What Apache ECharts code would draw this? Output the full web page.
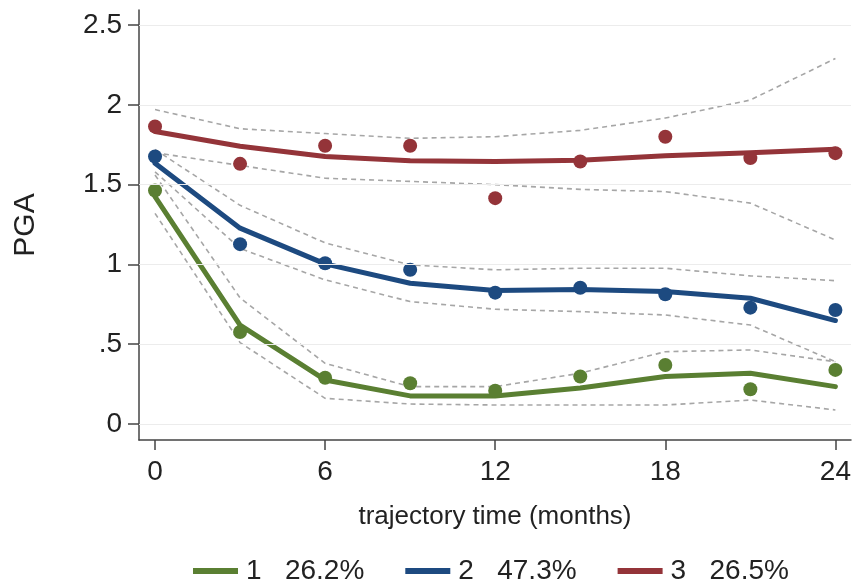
<!DOCTYPE html>
<html>
<head>
<meta charset="utf-8">
<script src="https://cdn.jsdelivr.net/npm/echarts@6/dist/echarts.min.js"></script>
<style>
  html, body { margin: 0; padding: 0; background: #fff; }
  #chart { width: 859px; height: 583px; }
</style>
</head>
<body>
<div id="chart"></div>
<script>
// Trajectory time in months
const months = [0, 3, 6, 9, 12, 15, 18, 21, 24];
const xTicks = [0, 6, 12, 18, 24];
const yTicks = [0, 0.5, 1, 1.5, 2, 2.5];
const yTickLabels = ['0', '.5', '1', '1.5', '2', '2.5'];

// Group labels and shares
const groups = ['1', '2', '3'];
const shares = ['26.2%', '47.3%', '26.5%'];

// Group 1
const obs1 = [1.463, 0.576, 0.290, 0.255, 0.209, 0.298, 0.370, 0.218, 0.339];
const fit1 = [1.425, 0.620, 0.276, 0.176, 0.176, 0.226, 0.297, 0.318, 0.234];
const hi1  = [1.560, 0.790, 0.380, 0.234, 0.234, 0.318, 0.453, 0.464, 0.390];
const lo1  = [1.320, 0.510, 0.161, 0.125, 0.119, 0.119, 0.119, 0.150, 0.088];

// Group 2
const obs2 = [1.676, 1.127, 1.007, 0.966, 0.823, 0.854, 0.813, 0.729, 0.714];
const fit2 = [1.634, 1.227, 1.003, 0.882, 0.836, 0.842, 0.830, 0.788, 0.648];
const hi2  = [1.720, 1.370, 1.135, 0.997, 0.966, 0.976, 0.976, 0.928, 0.898];
const lo2  = [1.580, 1.100, 0.903, 0.767, 0.719, 0.704, 0.683, 0.620, 0.390];

// Group 3
const obs3 = [1.864, 1.630, 1.743, 1.743, 1.415, 1.645, 1.800, 1.666, 1.697];
const fit3 = [1.833, 1.740, 1.676, 1.649, 1.645, 1.652, 1.680, 1.700, 1.722];
const hi3  = [1.970, 1.850, 1.820, 1.790, 1.800, 1.840, 1.917, 2.030, 2.290];
const lo3  = [1.700, 1.620, 1.540, 1.520, 1.500, 1.470, 1.456, 1.384, 1.153];

const colors = ['#5a7f32', '#1d4a80', '#943439'];
const FONT = 'Liberation Sans, Arial, sans-serif';

const pairs = ys => months.map((m, i) => [m, ys[i]]);

function ciLine(ys) {
  return {
    type: 'line', data: pairs(ys), symbol: 'none', silent: true, z: 2,
    lineStyle: { color: '#a6a6a6', width: 1.6, type: [5, 4] }
  };
}
function fitLine(name, ys, color) {
  return {
    name, type: 'line', data: pairs(ys), symbol: 'none', z: 3,
    lineStyle: { color, width: 5, cap: 'round', join: 'round' },
    itemStyle: { color }
  };
}
function dots(ys, color) {
  return {
    type: 'scatter', data: pairs(ys), symbol: 'circle', symbolSize: 14, z: 4,
    itemStyle: { color, opacity: 1 }
  };
}

const series = [
  // faint horizontal gridlines
  {
    type: 'line', data: [], silent: true,
    markLine: {
      silent: true, symbol: 'none', label: { show: false },
      lineStyle: { color: '#ececec', width: 1, type: 'solid' },
      data: yTicks.map(v => ({ yAxis: v }))
    }
  },
  ciLine(hi1), ciLine(lo1),
  ciLine(hi2), ciLine(lo2),
  ciLine(hi3), ciLine(lo3),
  fitLine(groups[0], fit1, colors[0]),
  fitLine(groups[1], fit2, colors[1]),
  fitLine(groups[2], fit3, colors[2]),
  dots(obs1, colors[0]),
  dots(obs2, colors[1]),
  dots(obs3, colors[2])
];

const chart = echarts.init(document.getElementById('chart'), null, { renderer: 'canvas' });
chart.setOption({
  animation: false,
  backgroundColor: '#ffffff',
  grid: { left: 139, right: 8, top: 10, bottom: 143 },
  xAxis: {
    type: 'value', min: -0.565, max: 24.55,
    name: 'trajectory time (months)', nameLocation: 'middle', nameGap: 64,
    nameTextStyle: { fontFamily: FONT, fontSize: 26, color: '#222' },
    axisLine: { show: true, onZero: false, lineStyle: { color: '#444', width: 1.5 } },
    axisTick: { show: true, length: 10, customValues: xTicks, lineStyle: { color: '#444', width: 1.5 } },
    axisLabel: { customValues: xTicks, margin: 18, fontFamily: FONT, fontSize: 28, color: '#222' },
    splitLine: { show: false }
  },
  yAxis: {
    type: 'value', min: -0.1003, max: 2.594,
    name: 'PGA', nameLocation: 'middle', nameGap: 98, nameRotate: 90,
    nameTextStyle: { fontFamily: FONT, fontSize: 30, color: '#222' },
    axisLine: { show: true, onZero: false, lineStyle: { color: '#444', width: 1.5 } },
    axisTick: { show: true, length: 11, customValues: yTicks, lineStyle: { color: '#444', width: 1.5 } },
    axisLabel: {
      customValues: yTicks, margin: 17, fontFamily: FONT, fontSize: 28, color: '#222',
      formatter: v => {
        const i = yTicks.findIndex(t => Math.abs(t - v) < 1e-6);
        return i >= 0 ? yTickLabels[i] : '';
      }
    },
    splitLine: { show: false }
  },
  legend: {
    data: groups, left: 188, top: 552, icon: 'rect',
    itemWidth: 45, itemHeight: 6, itemGap: 41,
    textStyle: { fontFamily: FONT, fontSize: 28, color: '#222', padding: [0, 0, 0, 3] },
    formatter: name => name + '   ' + shares[groups.indexOf(name)]
  },
  series
});
</script>
</body>
</html>
